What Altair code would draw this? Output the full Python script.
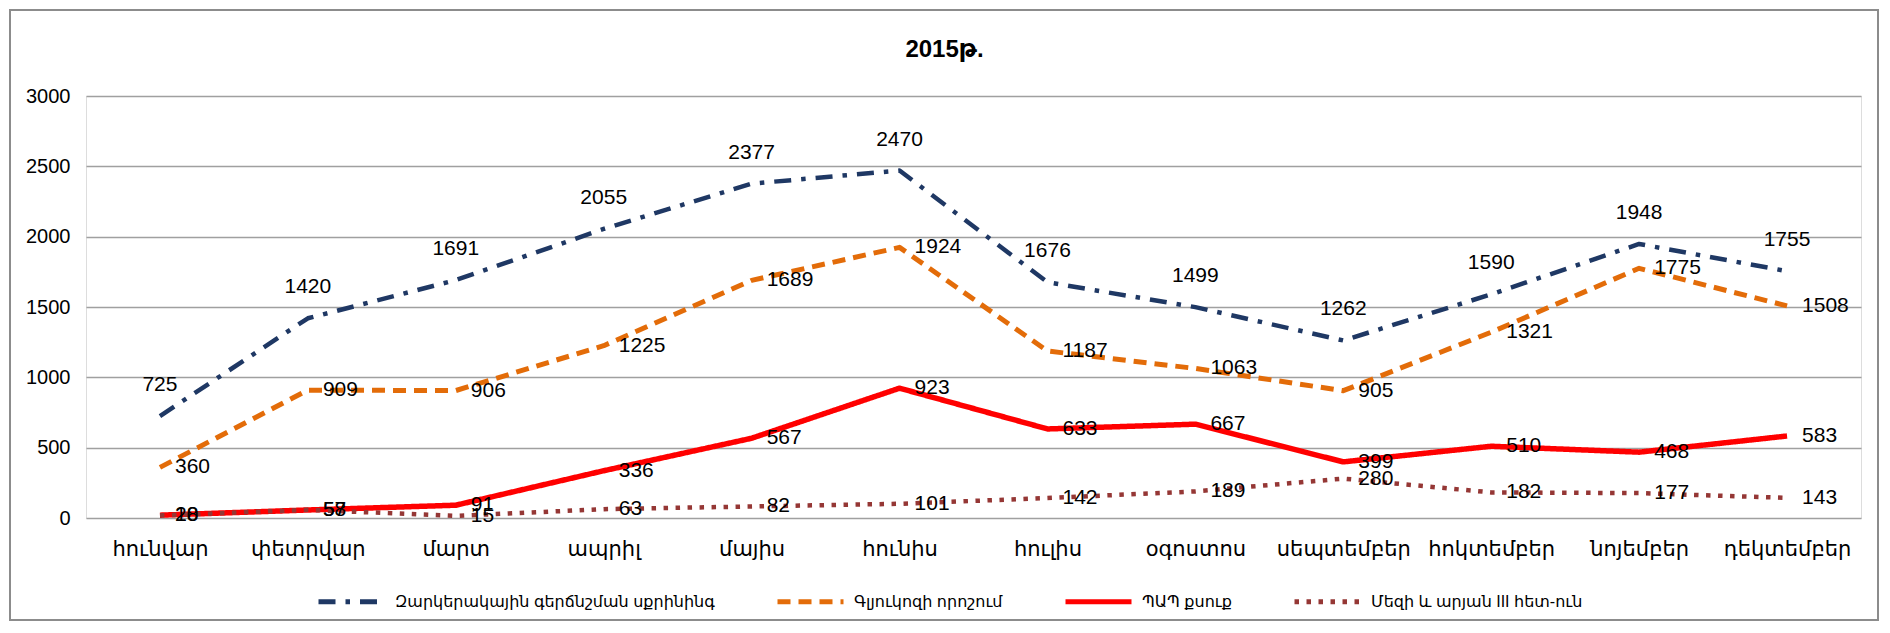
import altair as alt
import pandas as pd

months = ["հունվար", "փետրվար", "մարտ", "ապրիլ", "մայիս", "հունիս",
          "հուլիս", "օգոստոս", "սեպտեմբեր", "հոկտեմբեր", "նոյեմբեր", "դեկտեմբեր"]
series_names = ["Զարկերակային գերճնշման սքրինինգ", "Գլյուկոզի որոշում",
                "ՊԱՊ քսուք", "Մեզի և արյան III հետ-ուն"]
hypertension = [725, 1420, 1691, 2055, 2377, 2470, 1676, 1499, 1262, 1590, 1948, 1755]
glucose = [360, 909, 906, 1225, 1689, 1924, 1187, 1063, 905, 1321, 1775, 1508]
pap = [20, 57, 91, 336, 567, 923, 633, 667, 399, 510, 468, 583]
urine_blood = [18, 58, 15, 63, 82, 101, 142, 189, 280, 182, 177, 143]
y_ticks = [0, 500, 1000, 1500, 2000, 2500, 3000]
title_text = "2015թ."

colors = ["#1F3864", "#E36C09", "#FF0000", "#953735"]
dashes = [[17, 10, 4.5, 10], [13, 8], [1, 0], [4.5, 7.5]]
widths = [4.5, 5, 5.5, 4.5]

rows = []
for name, vals in zip(series_names, [hypertension, glucose, pap, urine_blood]):
    for m, v in zip(months, vals):
        rows.append({"month": m, "series": name, "value": v})
df = pd.DataFrame(rows)

FONT = "Liberation Sans, Arial, DejaVu Sans, sans-serif"
W, H = 1775, 422

x_enc = alt.X("month:N", sort=months, title=None,
              scale=alt.Scale(type="point", padding=0.5),
              axis=alt.Axis(labelAngle=0, ticks=False, domain=False, grid=False,
                            labelPadding=20, labelFontSize=21, labelColor="#000000",
                            labelFont=FONT))
y_enc = alt.Y("value:Q", title=None, scale=alt.Scale(domain=[0, 3000]),
              axis=alt.Axis(values=y_ticks, format="d", ticks=False, domain=False,
                            grid=True, gridColor="#A0A0A0", gridWidth=1.6,
                            labelPadding=16, labelFontSize=20, labelColor="#000000",
                            labelFont=FONT))

color_enc = alt.Color("series:N", sort=series_names,
                      scale=alt.Scale(domain=series_names, range=colors),
                      legend=alt.Legend(title=None, orient="none", direction="horizontal",
                                        columns=4, legendX=230, legendY=470,
                                        symbolType="stroke", symbolSize=4356,
                                        symbolStrokeWidth=5, labelFontSize=16,
                                        labelFont=FONT, labelColor="#000000",
                                        labelOffset=8, columnPadding=52,
                                        labelLimit=500))
dash_enc = alt.StrokeDash("series:N", sort=series_names,
                          scale=alt.Scale(domain=series_names, range=dashes))

base = alt.Chart(df)

line_layers = []
for name, w in zip(series_names, widths):
    line_layers.append(
        base.transform_filter(alt.datum.series == name)
        .mark_line(strokeCap="butt", strokeJoin="round", strokeWidth=w)
        .encode(x=x_enc, y=y_enc, color=color_enc, strokeDash=dash_enc)
    )

labels_top = base.transform_filter(alt.datum.series == series_names[0]).mark_text(
    align="center", baseline="middle", dy=-31, fontSize=21, font=FONT, color="#000000"
).encode(x=alt.X("month:N", sort=months), y="value:Q", text="value:Q")

labels_right = base.transform_filter(alt.datum.series != series_names[0]).mark_text(
    align="left", baseline="middle", dx=15, fontSize=21, font=FONT, color="#000000"
).encode(x=alt.X("month:N", sort=months), y="value:Q", text="value:Q")

frame = alt.Chart(pd.DataFrame({"k": [0]})).mark_rect(
    filled=False, stroke="#8C8C8C", strokeWidth=2
).encode(x=alt.value(-76), x2=alt.value(1792), y=alt.value(-86), y2=alt.value(524))

chart = alt.layer(frame, *line_layers, labels_top, labels_right).properties(
    width=W, height=H,
    title=alt.Title(title_text, fontSize=24, fontWeight="bold", font=FONT,
                    color="#000000", anchor="middle", dx=-29, offset=-53),
    padding={"left": 78, "top": 88, "right": 19, "bottom": 104},
    autosize=alt.AutoSizeParams(type="none"),
).configure_view(stroke=None).configure(background="#FFFFFF")

chart.save("out.html", embed_options={"renderer": "svg", "actions": False})
